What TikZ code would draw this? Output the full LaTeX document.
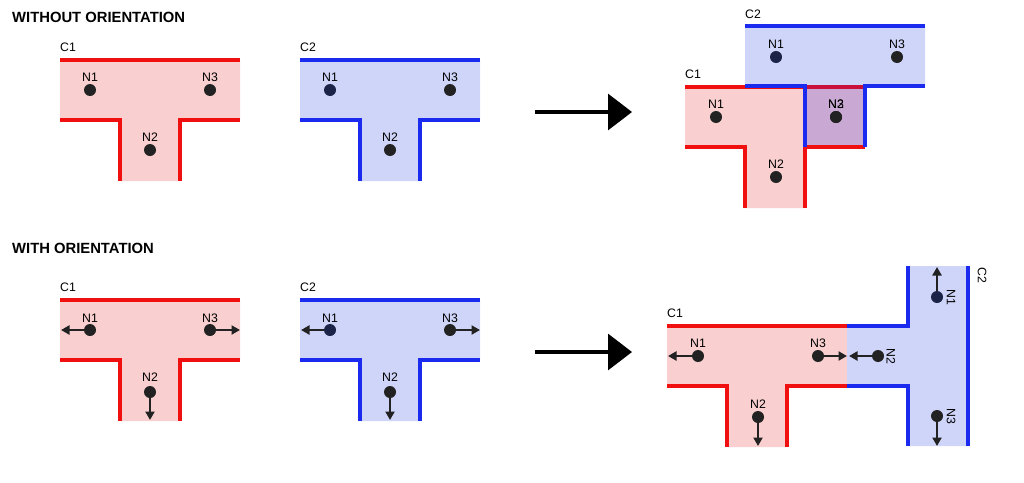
\documentclass[tikz,border=0pt]{standalone}
\usepackage{fontspec}
\setmainfont{Liberation Sans}
\usetikzlibrary{arrows.meta}
\definecolor{pinkfill}{HTML}{F9CFCF}
\definecolor{bluefill}{HTML}{CFD5F8}
\definecolor{redline}{HTML}{F01010}
\definecolor{blueline}{HTML}{1A2AEE}
\definecolor{mixfill}{HTML}{C9A9D4}
\definecolor{mixline}{HTML}{C8103A}
\definecolor{dotgray}{HTML}{222222}
\definecolor{dotnavy}{HTML}{1C2348}
\tikzset{
  rededge/.style={draw=redline, line width=3.2pt},
  blueedge/.style={draw=blueline, line width=3.2pt},
  dotnode/.style={circle, fill=dotgray, inner sep=0pt, minimum size=12pt},
  navynode/.style={dotnode, fill=dotnavy},
  lbl/.style={font=\fontsize{12.3}{14}\selectfont, inner sep=0pt},
  heading/.style={font=\fontsize{14.8}{17}\selectfont\bfseries, anchor=west, inner sep=0pt},
  orient/.style={draw=dotgray, line width=2.6pt, -{Triangle[length=8.5pt,width=9pt]}},
  bigarrow/.style={draw=black, line width=3.2pt, -{Triangle[length=24pt,width=36pt]}},
  pics/teefill/.style={code={
    \fill[#1] (0,0) -- (180,0) -- (180,60) -- (120,60) -- (120,121)
      -- (60,121) -- (60,60) -- (0,60) -- cycle;
  }},
  pics/teeedge/.style={code={
    \draw[#1] (0,0) -- (180,0);
    \draw[#1] (0,60) -- (60,60) -- (60,121);
    \draw[#1] (180,60) -- (120,60) -- (120,121);
  }},
}
\begin{document}
\begin{tikzpicture}[x=1pt, y=-1pt]
\useasboundingbox (0,0) rectangle (1024,482);

% ---------------- without orientation ----------------
\node[heading] (t1) at (12,17.5) {WITHOUT ORIENTATION};

\pic at (60,60) {teefill=pinkfill};
\pic at (60,60) {teeedge=rededge};
\node[lbl, anchor=west] (c1a) at (60,47) {C1};
\node[dotnode] (a1) at (90,90) {};
\node[dotnode] (a2) at (150,150) {};
\node[dotnode] (a3) at (210,90) {};
\node[lbl] (la1) at (90,77) {N1};
\node[lbl] (la2) at (150,137) {N2};
\node[lbl] (la3) at (210,77) {N3};

\pic at (300,60) {teefill=bluefill};
\pic at (300,60) {teeedge=blueedge};
\node[lbl, anchor=west] (c2a) at (300,47) {C2};
\node[navynode] (b1) at (330,90) {};
\node[dotnode] (b2) at (390,150) {};
\node[dotnode] (b3) at (450,90) {};
\node[lbl] (lb1) at (330,77) {N1};
\node[lbl] (lb2) at (390,137) {N2};
\node[lbl] (lb3) at (450,77) {N3};

\coordinate (arr1s) at (535,112);
\coordinate (arr1e) at (632,112);
\draw[bigarrow] (arr1s) -- (arr1e);

% joined pieces overlapping at one node
\pic at (685,87) {teefill=pinkfill};
\pic at (745,26) {teefill=bluefill};
\fill[mixfill] (806,87) rectangle (866,147);
\pic at (685,87) {teeedge=rededge};
\draw[mixline, line width=3.2pt] (806,87) -- (866,87);
\pic at (745,26) {teeedge=blueedge};
\node[lbl, anchor=west] (c1b) at (685,74) {C1};
\node[lbl, anchor=west] (c2b) at (745,14) {C2};
\node[navynode] (e1) at (776,57) {};
\node[dotnode] (e3) at (897,57) {};
\node[dotnode] (e2) at (836,117) {};
\node[dotnode] (d3) at (836,117) {};
\node[dotnode] (d1) at (716,117) {};
\node[dotnode] (d2) at (776,177) {};
\node[lbl] (le1) at (776,44) {N1};
\node[lbl] (le3) at (897,44) {N3};
\node[lbl] (le2) at (836,104) {N2};
\node[lbl] (ld3) at (836,104) {N3};
\node[lbl] (ld1) at (716,104) {N1};
\node[lbl] (ld2) at (776,164) {N2};

% ---------------- with orientation ----------------
\node[heading] (t2) at (12,248) {WITH ORIENTATION};

\pic at (60,300) {teefill=pinkfill};
\pic at (60,300) {teeedge=rededge};
\node[lbl, anchor=west] (c1c) at (60,287) {C1};
\node[dotnode] (f1) at (90,330) {};
\node[dotnode] (f2) at (150,392) {};
\node[dotnode] (f3) at (210,330) {};
\coordinate (f1t) at (61,330);
\coordinate (f2t) at (150,420);
\coordinate (f3t) at (240,330);
\draw[orient] (f1) -- (f1t);
\draw[orient] (f2) -- (f2t);
\draw[orient] (f3) -- (f3t);
\node[lbl] (lf1) at (90,318) {N1};
\node[lbl] (lf2) at (150,377) {N2};
\node[lbl] (lf3) at (210,318) {N3};

\pic at (300,300) {teefill=bluefill};
\pic at (300,300) {teeedge=blueedge};
\node[lbl, anchor=west] (c2c) at (300,287) {C2};
\node[navynode] (g1) at (330,330) {};
\node[dotnode] (g2) at (390,392) {};
\node[dotnode] (g3) at (450,330) {};
\coordinate (g1t) at (301,330);
\coordinate (g2t) at (390,420);
\coordinate (g3t) at (480,330);
\draw[orient] (g1) -- (g1t);
\draw[orient] (g2) -- (g2t);
\draw[orient] (g3) -- (g3t);
\node[lbl] (lg1) at (330,318) {N1};
\node[lbl] (lg2) at (390,377) {N2};
\node[lbl] (lg3) at (450,318) {N3};

\coordinate (arr2s) at (535,352);
\coordinate (arr2e) at (632,352);
\draw[bigarrow] (arr2s) -- (arr2e);

% joined pieces, C2 turned to face C1
\pic at (667,326) {teefill=pinkfill};
\pic[rotate=-90] at (968,266) {teefill=bluefill};
\pic at (667,326) {teeedge=rededge};
\pic[rotate=-90] at (968,266) {teeedge=blueedge};
\node[lbl, anchor=west] (c1d) at (667,313) {C1};
\node[lbl, rotate=-90] (c2d) at (982,275) {C2};

\node[dotnode] (h1) at (698,356) {};
\node[dotnode] (h2) at (758,417) {};
\node[dotnode] (h3) at (818,356) {};
\coordinate (h1t) at (668,356);
\coordinate (h2t) at (758,446);
\coordinate (h3t) at (847,356);
\draw[orient] (h1) -- (h1t);
\draw[orient] (h2) -- (h2t);
\draw[orient] (h3) -- (h3t);
\node[lbl] (lh1) at (698,343) {N1};
\node[lbl] (lh2) at (758,404) {N2};
\node[lbl] (lh3) at (818,343) {N3};

\node[navynode] (k1) at (937,297) {};
\node[dotnode] (k2) at (878,356) {};
\node[dotnode] (k3) at (937,416) {};
\coordinate (k1t) at (937,267);
\coordinate (k2t) at (849,356);
\coordinate (k3t) at (937,446);
\draw[orient] (k1) -- (k1t);
\draw[orient] (k2) -- (k2t);
\draw[orient] (k3) -- (k3t);
\node[lbl, rotate=-90] (lk1) at (951,297) {N1};
\node[lbl, rotate=-90] (lk2) at (891,356) {N2};
\node[lbl, rotate=-90] (lk3) at (951,416) {N3};
\end{tikzpicture}
\end{document}
